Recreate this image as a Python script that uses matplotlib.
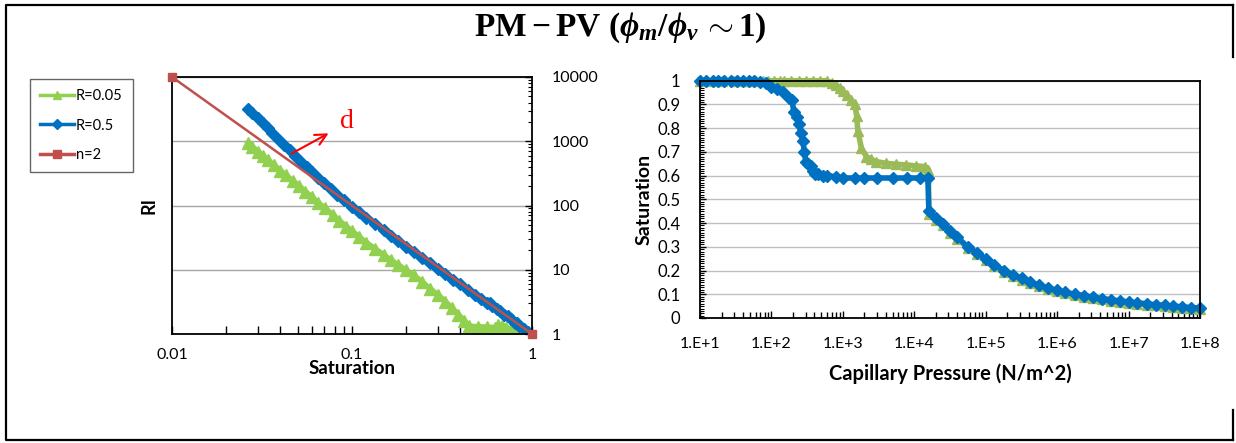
import matplotlib
matplotlib.use("Agg")
import matplotlib.pyplot as plt
from matplotlib.lines import Line2D
from matplotlib.patches import FancyArrowPatch
from matplotlib.ticker import NullFormatter, LogLocator, MultipleLocator

plt.rcParams['font.family'] = ['Lato', 'DejaVu Sans']
plt.rcParams['mathtext.fontset'] = 'custom'
plt.rcParams['mathtext.rm'] = 'Liberation Serif:bold'
plt.rcParams['mathtext.bf'] = 'Liberation Serif:bold'
plt.rcParams['mathtext.it'] = 'Liberation Serif:bold:italic'

# ---- left panel: resistivity index vs saturation (log-log) ----
sat_r005 = [0.0265, 0.028, 0.030, 0.032, 0.034, 0.037, 0.040, 0.043, 0.047, 0.051,
            0.055, 0.060, 0.065, 0.071, 0.078, 0.085, 0.093, 0.100, 0.110, 0.120,
            0.135, 0.150, 0.165, 0.180, 0.200, 0.220, 0.245, 0.270, 0.300, 0.330,
            0.360, 0.390, 0.420, 0.445, 0.500, 0.560, 0.620, 0.650, 0.680, 0.720,
            0.760, 0.820, 0.880, 0.940, 1.000]
ri_r005 = [950, 820, 690, 590, 510, 420, 350, 295, 240, 200,
           165, 135, 110, 90, 72, 58, 47, 40, 32, 26.5,
           21, 17, 14, 12, 9.8, 8.2, 6.5, 5.1, 4.1, 3.2,
           2.5, 2.0, 1.62, 1.32, 1.30, 1.28, 1.26, 1.38, 1.32, 1.25,
           1.18, 1.10, 1.04, 1.0, 0.97]

sat_r05 = [0.0265, 0.028, 0.030, 0.032, 0.034, 0.036, 0.039, 0.042, 0.045, 0.048,
           0.052, 0.056, 0.060, 0.065, 0.070, 0.076, 0.083, 0.090, 0.100, 0.110,
           0.120, 0.135, 0.150, 0.165, 0.180, 0.200, 0.220, 0.245, 0.270, 0.300,
           0.330, 0.365, 0.400, 0.440, 0.480, 0.520, 0.560, 0.585, 0.600, 0.640,
           0.660, 0.700, 0.740, 0.760, 0.800, 0.830, 0.850, 0.900, 0.950, 1.000]
ri_r05 = [3200, 2750, 2300, 1900, 1600, 1350, 1100, 880, 720, 600,
          480, 400, 330, 270, 225, 180, 145, 120, 95, 78,
          65, 52, 42, 34, 28.5, 23, 19, 15.5, 12.8, 10.4,
          8.6, 7.0, 5.9, 4.9, 4.1, 3.5, 3.05, 3.0, 2.7, 2.45,
          2.3, 2.0, 1.9, 1.7, 1.5, 1.5, 1.35, 1.2, 1.08, 1.0]

sat_n2 = [0.01, 1.0]
ri_n2 = [10000, 1.0]

# ---- right panel: saturation vs capillary pressure ----
pc_r005 = [10, 15, 20, 30, 40, 50, 60, 75, 90, 110, 130, 150, 190, 240, 300, 380,
           480, 600, 700, 800, 900, 1000, 1130, 1300, 1480, 1560, 1620, 1820, 2140,
           2500, 2950, 4000, 5500, 7760, 10500, 14100, 15800, 16000, 20000, 25000,
           32000, 40000, 56000, 75000, 100000, 130000, 180000, 240000, 320000,
           420000, 560000, 750000, 1e6, 1.3e6, 1.8e6, 2.4e6, 3.2e6, 4.2e6, 5.6e6,
           7.5e6, 1e7, 1.3e7, 1.8e7, 2.4e7, 3.2e7, 4.2e7, 5.6e7, 7.5e7, 1e8]
s_r005 = [1.0, 1.0, 1.0, 1.0, 1.0, 1.0, 1.0, 1.0, 1.0, 1.0, 1.0, 1.0, 1.0, 1.0, 1.0, 1.0,
          1.0, 1.0, 0.99, 0.98, 0.97, 0.955, 0.94, 0.92, 0.90, 0.85, 0.79, 0.715, 0.68,
          0.668, 0.659, 0.652, 0.648, 0.645, 0.641, 0.638, 0.625, 0.44, 0.415, 0.39,
          0.36, 0.335, 0.295, 0.27, 0.245, 0.22, 0.195, 0.178, 0.162, 0.148,
          0.134, 0.122, 0.112, 0.104, 0.096, 0.089, 0.083, 0.078, 0.073,
          0.068, 0.064, 0.060, 0.056, 0.053, 0.050, 0.047, 0.044, 0.041, 0.039]

pc_r05 = [10, 12, 15, 18, 22, 27, 33, 40, 48, 57, 70, 85, 98, 120, 145, 174, 192,
          207, 225, 242, 258, 274, 290, 302, 330, 359, 385, 408, 450, 520, 600, 800,
          1000, 1500, 2000, 3000, 5000, 8000, 12000, 15500, 16000, 20000, 25000,
          32000, 40000, 56000, 75000, 100000, 130000, 180000, 240000, 320000,
          420000, 560000, 750000, 1e6, 1.3e6, 1.8e6, 2.4e6, 3.2e6, 4.2e6, 5.6e6,
          7.5e6, 1e7, 1.3e7, 1.8e7, 2.4e7, 3.2e7, 4.2e7, 5.6e7, 7.5e7, 1e8]
s_r05 = [1.0, 1.0, 1.0, 1.0, 1.0, 1.0, 1.0, 1.0, 1.0, 1.0, 0.995, 0.99, 0.975, 0.965, 0.954, 0.926, 0.919,
         0.869, 0.845, 0.817, 0.78, 0.747, 0.70, 0.659, 0.648, 0.64, 0.62, 0.607, 0.605, 0.60, 0.60, 0.595,
         0.59, 0.59, 0.59, 0.59, 0.59, 0.59, 0.59, 0.59, 0.45, 0.42, 0.395,
         0.365, 0.34, 0.30, 0.275, 0.25, 0.225, 0.20, 0.183, 0.167,
         0.152, 0.138, 0.126, 0.116, 0.108, 0.10, 0.094, 0.088, 0.082, 0.077,
         0.072, 0.068, 0.064, 0.060, 0.056, 0.053, 0.050, 0.047, 0.044, 0.042]

green_l = '#92D050'
green_r = '#9BBB59'
blue = '#0070C0'
red = '#C0504D'

W, H = 1236, 443
fig = plt.figure(figsize=(W / 100, H / 100), dpi=100)


def box(x0, y0, x1, y1):
    # pixel box (top-left origin) -> figure fraction rect
    return [x0 / W, 1 - y1 / H, (x1 - x0) / W, (y1 - y0) / H]


# left chart
ax1 = fig.add_axes(box(172, 77, 532, 334))
ax1.plot(sat_r005, ri_r005, color=green_l, lw=4, marker='^', ms=8, mec=green_l, label='R=0.05')
ax1.plot(sat_r05, ri_r05, color=blue, lw=5, marker='D', ms=6.5, mec=blue, label='R=0.5')
ax1.plot(sat_n2, ri_n2, color=red, lw=1.8, marker='s', ms=6, mec=red, label='n=2',
         clip_on=False, zorder=5)
ax1.set_xscale('log')
ax1.set_yscale('log')
ax1.set_xlim(0.01, 1)
ax1.set_ylim(1, 10000)
ax1.yaxis.tick_right()
ax1.yaxis.set_label_position('left')
ax1.set_xticks([0.01, 0.1, 1], ['0.01', '0.1', '1'])
ax1.set_yticks([1, 10, 100, 1000, 10000], ['1', '10', '100', '1000', '10000'])
ax1.xaxis.set_minor_formatter(NullFormatter())
ax1.yaxis.set_minor_formatter(NullFormatter())
ax1.tick_params(axis='x', which='major', direction='in', length=6, width=1, pad=10, labelsize=11.5)
ax1.tick_params(axis='x', which='minor', direction='in', length=6, width=1)
ax1.tick_params(axis='y', which='major', direction='in', length=5, width=1, pad=14, labelsize=11.5)
ax1.tick_params(axis='y', which='minor', direction='in', length=3, width=0.8)
ax1.grid(True, axis='y', which='major', color='#A6A6A6', lw=1)
for s in ax1.spines.values():
    s.set_color('black')
    s.set_linewidth(1.3)
ax1.set_ylabel('RI', fontsize=13, fontweight='bold')
ax1.yaxis.set_label_coords(-0.04, 0.5)
ax1.set_xlabel('Saturation', fontsize=13.5, fontweight='bold')
ax1.xaxis.set_label_coords(0.5, -0.1)

leg = fig.legend(handles=ax1.get_lines(), loc='upper left',
                 bbox_to_anchor=(30 / W, 1 - 79 / H), fontsize=10.5,
                 frameon=True, fancybox=False, handlelength=2.3, handletextpad=0.15,
                 labelspacing=1.05, borderpad=0.7, borderaxespad=0)
leg.get_frame().set_edgecolor('#404040')
leg.get_frame().set_linewidth(1)
for h in leg.legend_handles:
    h.set_linewidth(2.5)
    h.set_markersize(5.5)

# the "d" arrow
fig.add_artist(FancyArrowPatch(
    (289 / W, 1 - 155 / H), (331 / W, 1 - 132 / H), transform=fig.transFigure,
    arrowstyle='->,head_length=8,head_width=4', color='red', lw=1.5))
fig.text(347 / W, 1 - 122 / H, 'd', color='red', fontsize=20,
         family='Liberation Serif', ha='center', va='center')

# right chart
ax2 = fig.add_axes(box(700, 80.7, 1200, 318))
ax2.plot(pc_r005, s_r005, color=green_r, lw=4, marker='^', ms=7, mec=green_r, clip_on=False)
ax2.plot(pc_r05, s_r05, color=blue, lw=4, marker='D', ms=6, mec=blue, clip_on=False)
ax2.set_xscale('log')
ax2.set_xlim(10, 1e8)
ax2.set_ylim(0, 1)
ax2.set_xticks([1e1, 1e2, 1e3, 1e4, 1e5, 1e6, 1e7, 1e8],
               ['1.E+1', '1.E+2', '1.E+3', '1.E+4', '1.E+5', '1.E+6', '1.E+7', '1.E+8'])
ax2.xaxis.set_minor_locator(LogLocator(base=10, subs=range(2, 10), numticks=20))
ax2.xaxis.set_minor_formatter(NullFormatter())
yt = [0, 0.1, 0.2, 0.3, 0.4, 0.5, 0.6, 0.7, 0.8, 0.9, 1]
ax2.set_yticks(yt, ['0', '0.1', '0.2', '0.3', '0.4', '0.5', '0.6', '0.7', '0.8', '0.9', '1'])
ax2.yaxis.set_minor_locator(MultipleLocator(0.01))
ax2.tick_params(axis='x', which='major', direction='in', length=5, width=1, pad=14, labelsize=11.5)
ax2.tick_params(axis='x', which='minor', direction='in', length=4, width=1)
ax2.tick_params(axis='y', which='major', direction='in', length=4, width=1, pad=14, labelsize=12)
ax2.tick_params(axis='y', which='minor', direction='in', length=3, width=0.8)
ax2.grid(True, axis='y', color='#BFBFBF', lw=1)
ax2.set_axisbelow(True)
for s in ax2.spines.values():
    s.set_color('black')
    s.set_linewidth(1.3)
ax2.set_ylabel('Saturation', fontsize=14, fontweight='bold')
ax2.yaxis.set_label_coords(-0.094, 0.5)
ax2.set_xlabel('Capillary Pressure (N/m^2)', fontsize=14.5, fontweight='bold')
ax2.xaxis.set_label_coords(0.5, -0.19)

# title
fig.text(620 / W, 1 - 28 / H,
         r'$\mathrm{PM} - \mathrm{PV}\ (\phi_m/\phi_v\,{\sim}\mathrm{1)}$',
         fontsize=24, ha='center', va='center')

# outer frame (right side only partly drawn, as in the source)
frame_kw = dict(color='black', lw=1.6, transform=fig.transFigure)
fig.add_artist(Line2D([1233 / W, 6 / W, 6 / W, 1233 / W],
                      [1 - 5 / H, 1 - 5 / H, 1 - 440 / H, 1 - 440 / H], **frame_kw))
fig.add_artist(Line2D([1233 / W, 1233 / W], [1 - 5 / H, 1 - 57 / H], **frame_kw))
fig.add_artist(Line2D([1233 / W, 1233 / W], [1 - 410 / H, 1 - 440 / H], **frame_kw))

fig.savefig('out.png', dpi=100)
